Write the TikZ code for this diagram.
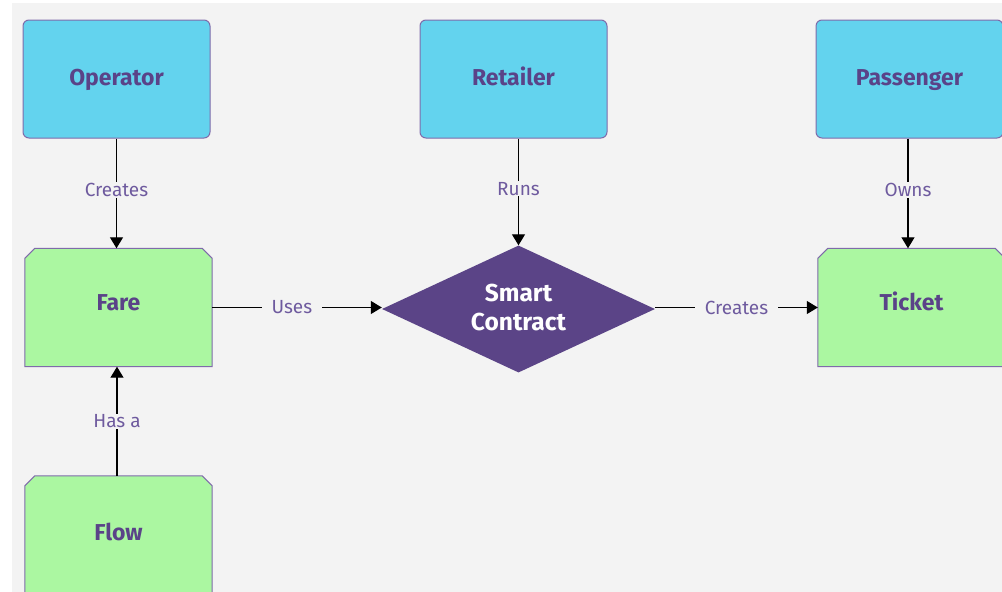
\documentclass[tikz,border=0pt]{standalone}
\usepackage{fontspec}
\setmainfont{Fira Sans}
\usetikzlibrary{shapes.geometric,arrows.meta}
\definecolor{bggray}{HTML}{F3F3F3}
\definecolor{cyanfill}{HTML}{63D3EE}
\definecolor{greenfill}{HTML}{ABF7A1}
\definecolor{txtpurple}{HTML}{5A4388}
\definecolor{edgepurple}{HTML}{6E5A9E}
\definecolor{borderpurple}{HTML}{7F6BAA}
\definecolor{diamondfill}{HTML}{5B4487}
\pgfdeclarelayer{bglayer}
\pgfdeclarelayer{shapelayer}
\pgfsetlayers{bglayer,shapelayer,main}
\tikzset{
  actor/.style={draw=borderpurple, line width=1pt, fill=cyanfill, rounded corners=6pt,
    minimum width=187pt, minimum height=118pt, inner sep=0pt,
    text height=15.8pt, text depth=2pt,
    font=\bfseries\fontsize{23}{26}\selectfont, text=txtpurple},
  thing/.style={minimum width=187pt, minimum height=118pt, inner sep=0pt,
    text height=15.8pt, text depth=9pt,
    font=\bfseries\fontsize{23}{26}\selectfont, text=txtpurple},
  thingshape/.style={draw=borderpurple, line width=1pt, fill=greenfill},
  contract/.style={diamond, fill=diamondfill, minimum width=273pt, minimum height=127pt,
    inner sep=0pt},
  contracttext/.style={align=center, text=white, inner sep=0pt,
    font=\bfseries\fontsize{24.5}{29}\selectfont},
  conn/.style={line width=1.2pt, draw=black, -{Triangle[width=13pt,length=11pt]}},
  elabel/.style={fill=bggray, text=edgepurple, inner xsep=10pt, inner ysep=1pt,
    font=\fontsize{19}{22}\selectfont}
}
\newcommand\chamfbox[1]{%
  \begin{pgfonlayer}{shapelayer}
  \filldraw[thingshape] (#1.south west) -- ([yshift=-10pt]#1.north west) -- ([xshift=10pt]#1.north west)
    -- ([xshift=-10pt]#1.north east) -- ([yshift=-10pt]#1.north east) -- (#1.south east) -- cycle;
  \end{pgfonlayer}}
\begin{document}
\begin{tikzpicture}[x=1pt,y=-1pt]
  \useasboundingbox (0,0) rectangle (1002,592);
  \clip (0,0) rectangle (1002,592);
  \begin{pgfonlayer}{bglayer}
    \fill[bggray] (12,3) rectangle (1002,592);
  \end{pgfonlayer}
  % top row
  \node[actor] (operator) at (116.5,79) {Operator};
  \node[actor] (retailer) at (513.5,79) {Retailer};
  \node[actor] (passenger) at (909.5,79) {Passenger};
  % middle row
  \node[thing] (fare) at (118.5,307.5) {Fare};
  \chamfbox{fare}
  \node[thing] (ticket) at (911.5,307.5) {Ticket};
  \chamfbox{ticket}
  \node[contract] (smart) at (518.5,309) {};
  \node[contracttext] (smarttext) at (518.5,307.5) {Smart\\Contract};
  % bottom
  \node[thing, text depth=4pt] (flow) at (118.5,535) {Flow};
  \chamfbox{flow}
  % connectors
  \draw[conn] (operator.south) -- node[elabel, pos=0.47] (l1) {Creates} (operator.south |- fare.north);
  \draw[conn] (retailer.south -| smart.north) -- node[elabel, pos=0.47] (l2) {Runs} (smart.north);
  \draw[conn] (passenger.south -| 908,0) -- node[elabel, pos=0.47] (l3) {Owns} (ticket.north -| 908,0);
  \draw[conn] (fare.east) -- node[elabel, pos=0.47] (l4) {Uses} (smart.west |- fare.east);
  \draw[conn] (smart.east |- ticket.west) -- node[elabel] (l5) {Creates} (ticket.west);
  \draw[conn] (flow.north -| 117,0) -- node[elabel] (l6) {Has a} (fare.south -| 117,0);
\end{tikzpicture}
\end{document}
